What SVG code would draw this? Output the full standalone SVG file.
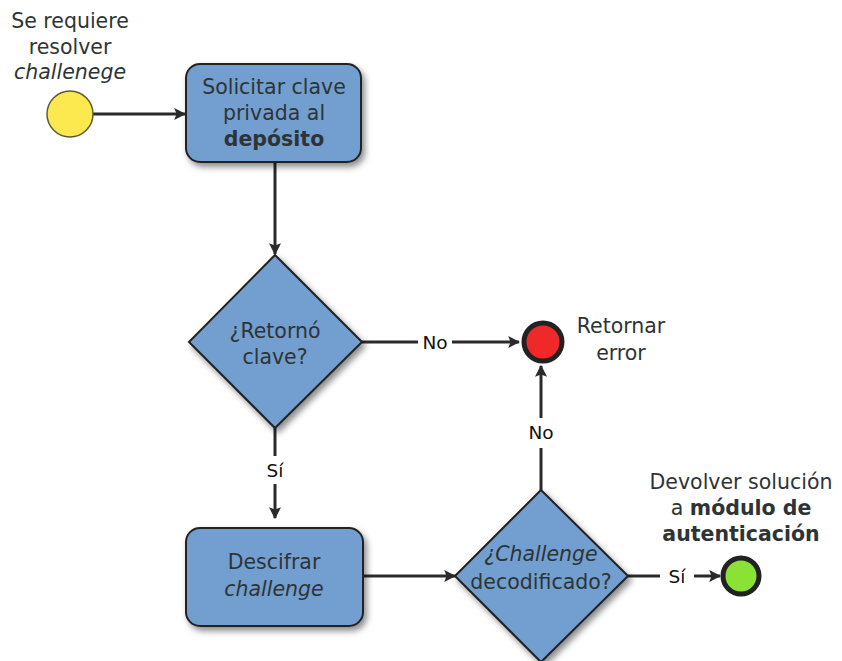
<svg xmlns="http://www.w3.org/2000/svg" width="842" height="661" viewBox="0 0 842 661">
<style>
text{font-family:"DejaVu Sans","Liberation Sans",sans-serif;font-size:20.5px;fill:#2e3436;text-anchor:middle}
.b{font-weight:bold}
.i{font-style:italic}
.lbl{font-size:18.5px;fill:#111}
.shape{fill:#729fcf;stroke:#222;stroke-width:2}
.conn{stroke:#2a2a2a;stroke-width:3;fill:none}
</style>
<defs>
<filter id="sh" x="-20%" y="-20%" width="150%" height="150%">
<feDropShadow dx="3" dy="4" stdDeviation="3" flood-color="#000" flood-opacity="0.45"/>
</filter>
<marker id="ah" viewBox="0 0 10 10" refX="9" refY="5" markerWidth="4" markerHeight="4" orient="auto" markerUnits="strokeWidth">
<path d="M0,0 L10,5 L0,10 L2,5 z" fill="#2a2a2a"/>
</marker>
</defs>
<g id="connectors">
<line class="conn" x1="93" y1="114" x2="185" y2="114" marker-end="url(#ah)"/>
<line class="conn" x1="275" y1="163" x2="275" y2="254" marker-end="url(#ah)"/>
<line class="conn" x1="362" y1="342" x2="418" y2="342"/>
<line class="conn" x1="452" y1="342" x2="519" y2="342" marker-end="url(#ah)"/>
<text class="lbl" x="435" y="349">No</text>
<line class="conn" x1="275" y1="428" x2="275" y2="456"/>
<line class="conn" x1="275" y1="484" x2="275" y2="518" marker-end="url(#ah)"/>
<text class="lbl" x="275" y="477">Sí</text>
<line class="conn" x1="364" y1="576" x2="455" y2="576" marker-end="url(#ah)"/>
<line class="conn" x1="541" y1="490" x2="541" y2="448"/>
<line class="conn" x1="541" y1="418" x2="541" y2="366" marker-end="url(#ah)"/>
<text class="lbl" x="541" y="439">No</text>
<line class="conn" x1="628" y1="576" x2="660" y2="576"/>
<line class="conn" x1="694" y1="576" x2="720" y2="576" marker-end="url(#ah)"/>
<text class="lbl" x="677" y="583">Sí</text>
</g>
<g id="start">
<circle cx="70" cy="114" r="23" fill="#fce94f" stroke="#5a5a3a" stroke-width="1.5"/>
<text x="70" y="28">Se requiere</text>
<text x="70" y="54">resolver</text>
<text class="i" x="70" y="79">challenege</text>
</g>
<g id="solicitar">
<rect class="shape" x="186" y="64" width="175" height="98" rx="14" filter="url(#sh)"/>
<text x="274" y="94">Solicitar clave</text>
<text x="274" y="120">privada al</text>
<text class="b" x="274" y="146">depósito</text>
</g>
<g id="retorno">
<polygon class="shape" points="275,255 362,342 275,428 189,342" filter="url(#sh)"/>
<text x="275" y="338">¿Retornó</text>
<text x="275" y="364">clave?</text>
</g>
<g id="error">
<circle cx="543" cy="342" r="19" fill="#ef2929" stroke="#222" stroke-width="5"/>
<text x="621" y="333">Retornar</text>
<text x="621" y="360">error</text>
</g>
<g id="descifrar">
<rect class="shape" x="186" y="528" width="177" height="98" rx="14" filter="url(#sh)"/>
<text x="274" y="569">Descifrar</text>
<text class="i" x="274" y="596">challenge</text>
</g>
<g id="decodificado">
<polygon class="shape" points="541,490 628,576 541,662 455,576" filter="url(#sh)"/>
<text class="i" x="541" y="561">¿Challenge</text>
<text x="541" y="589">decodificado?</text>
</g>
<g id="fin">
<circle cx="741" cy="576" r="18" fill="#8ae234" stroke="#222" stroke-width="5"/>
<text x="741" y="489">Devolver solución</text>
<text x="741" y="515">a <tspan class="b">módulo de</tspan></text>
<text class="b" x="741" y="541">autenticación</text>
</g>
</svg>
